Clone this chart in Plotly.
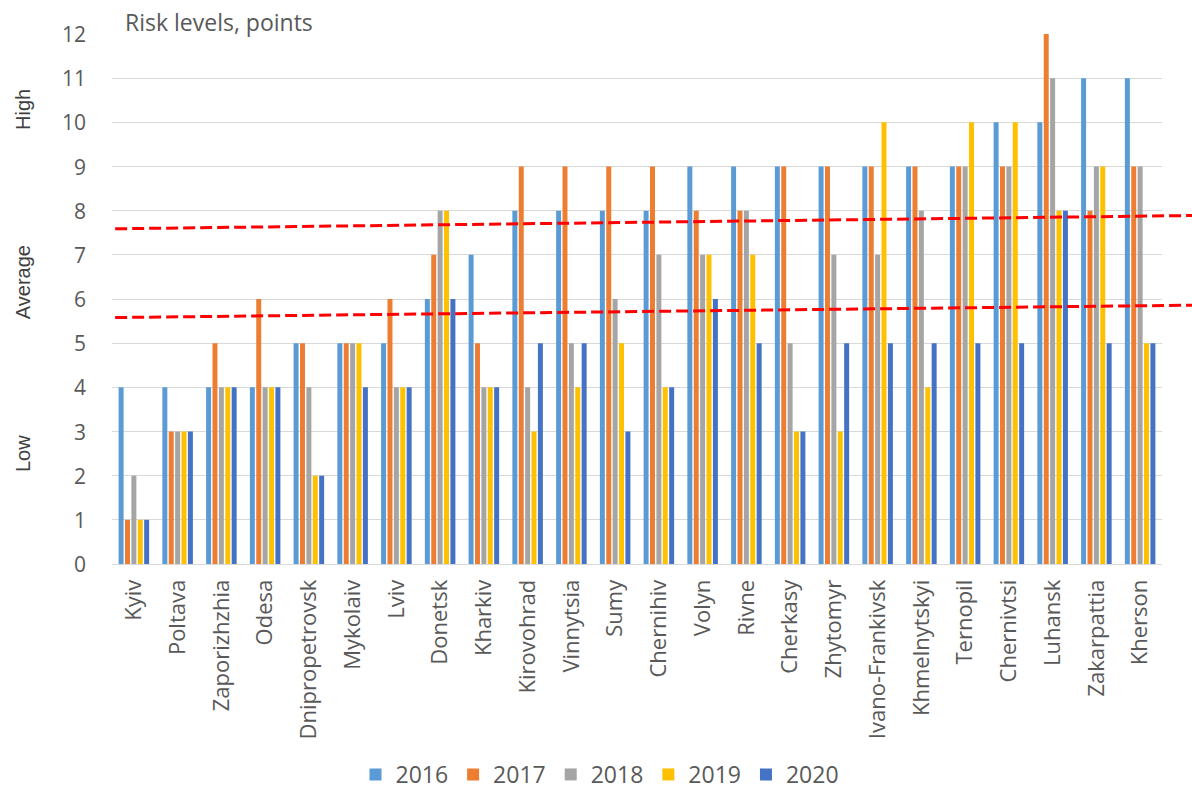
import plotly.graph_objects as go

regions = ["Kyiv", "Poltava", "Zaporizhzhia", "Odesa", "Dnipropetrovsk", "Mykolaiv", "Lviv",
           "Donetsk", "Kharkiv", "Kirovohrad", "Vinnytsia", "Sumy", "Chernihiv", "Volyn",
           "Rivne", "Cherkasy", "Zhytomyr", "Ivano-Frankivsk", "Khmelnytskyi", "Ternopil",
           "Chernivtsi", "Luhansk", "Zakarpattia", "Kherson"]

y2016 = [4, 4, 4, 4, 5, 5, 5, 6, 7, 8, 8, 8, 8, 9, 9, 9, 9, 9, 9, 9, 10, 10, 11, 11]
y2017 = [1, 3, 5, 6, 5, 5, 6, 7, 5, 9, 9, 9, 9, 8, 8, 9, 9, 9, 9, 9, 9, 12, 8, 9]
y2018 = [2, 3, 4, 4, 4, 5, 4, 8, 4, 4, 5, 6, 7, 7, 8, 5, 7, 7, 8, 9, 9, 11, 9, 9]
y2019 = [1, 3, 4, 4, 2, 5, 4, 8, 4, 3, 4, 5, 4, 7, 7, 3, 3, 10, 4, 10, 10, 8, 9, 5]
y2020 = [1, 3, 4, 4, 2, 4, 4, 6, 4, 5, 5, 3, 4, 6, 5, 3, 5, 5, 5, 5, 5, 8, 5, 5]

years = ["2016", "2017", "2018", "2019", "2020"]
series = [y2016, y2017, y2018, y2019, y2020]
colors = ["#5B9BD5", "#ED7D31", "#A5A5A5", "#FFC000", "#4472C4"]
y_ticks = list(range(0, 13))

# threshold dashed lines (value at left edge, value at right edge)
upper_line = [7.59, 7.89]
lower_line = [5.58, 5.86]
zone_labels = ["High", "Average", "Low"]
zone_pos = [10.28, 6.38, 2.49]

fig = go.Figure()
for name, vals, c in zip(years, series, colors):
    fig.add_trace(go.Bar(x=regions, y=vals, name=name, marker_color=c,
                         marker_line_width=0))

FONT = "Open Sans"
W, H = 1192, 790
L, R, T, B = 112, 30, 34, 226
pw = W - L - R
ph = H - T - B

x_right = (W - L) / pw
for ln in (upper_line, lower_line):
    fig.add_shape(type="line", xref="paper", yref="paper",
                  x0=0.003, x1=x_right, y0=ln[0] / 12, y1=ln[1] / 12,
                  line=dict(color="#FF0000", width=3, dash="12px,5px"))

for lab, pos in zip(zone_labels, zone_pos):
    fig.add_annotation(text=lab, xref="paper", yref="y", x=(23 - L) / pw, y=pos,
                       xanchor="center", yanchor="middle",
                       textangle=-90, showarrow=False,
                       font=dict(family="Liberation Sans", size=20, color="#404040"))

# y-axis value labels, placed on the axis scale
for v in y_ticks:
    fig.add_annotation(text=str(v), xref="paper", yref="y", x=(88 - L) / pw, y=v,
                       xanchor="right", yanchor="middle", showarrow=False,
                       font=dict(family=FONT, size=21, color="#595959"))

fig.add_annotation(text="Risk levels, points", xref="paper", yref="paper",
                   x=(123 - L) / pw, y=(H - B - 22) / ph, xanchor="left", yanchor="middle",
                   showarrow=False, font=dict(family=FONT, size=23, color="#595959"))

fig.update_layout(
    width=W, height=H,
    margin=dict(l=L, r=R, t=T, b=B, autoexpand=False),
    plot_bgcolor="white", paper_bgcolor="white",
    barmode="group", bargap=0.27, bargroupgap=0.22,
    font=dict(family=FONT, color="#595959"),
    legend=dict(orientation="h", x=(600 - L) / pw, xanchor="center",
                y=-(H + 6 - (H - B)) / ph, yanchor="bottom",
                font=dict(size=23, color="#595959"), itemwidth=30),
    showlegend=True,
)
fig.update_yaxes(range=[0, 12], tickvals=y_ticks, showgrid=True, gridcolor="#D9D9D9",
                 gridwidth=1, zeroline=False, showticklabels=False, ticks="",
                 showline=False)
fig.update_xaxes(tickangle=-90, tickfont=dict(size=22, color="#595959"), showline=True,
                 linecolor="#D9D9D9", linewidth=1, ticks="", ticklabelstandoff=6)

post = "document.body.style.margin='0';document.body.style.overflow='hidden';"
fig.write_html("out.html", config={"displayModeBar": False}, post_script=post)
